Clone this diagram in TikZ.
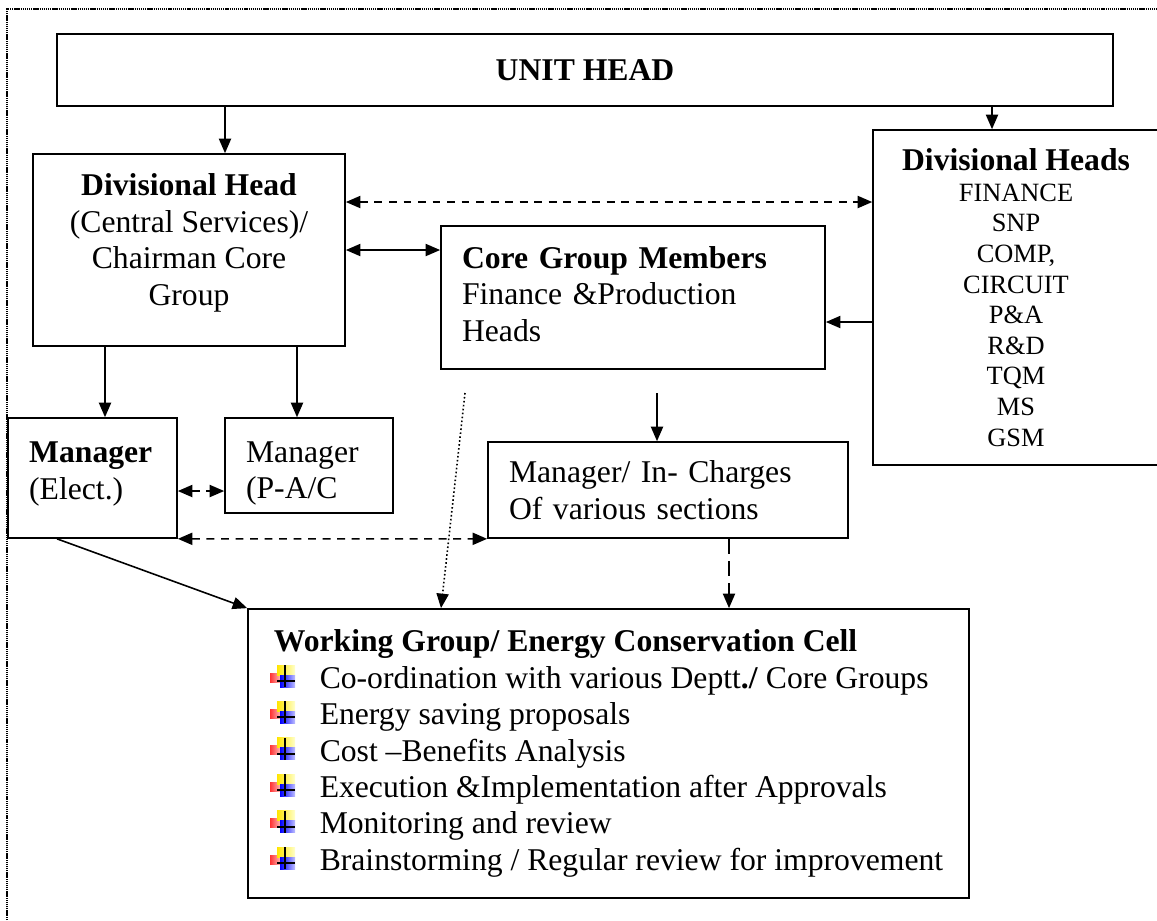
\documentclass[tikz,border=0pt]{standalone}
\usepackage{fontspec}
\setmainfont{Liberation Serif}
\usetikzlibrary{arrows.meta}
\tikzset{
	every node/.style={font=\fontsize{12}{13.8}\selectfont},
	box/.style={draw, line width=0.6pt, inner sep=0pt},
	lbox/.style={box, align=left, inner xsep=8pt},
	ltxt/.style={align=left, inner sep=0pt},
	con/.style={line width=0.6pt},
	dsh/.style={con, dash pattern=on 3pt off 2.5pt},
	bul/.pic={
		\shade[left color=red!80, right color=red!25] (0,-15) rectangle (11,-6);
		\shade[left color=yellow!80!orange, right color=yellow!20] (7,-23) rectangle (25,-13);
		\shade[left color=blue, right color=blue!25] (10,-13) rectangle (25,-1);
		\draw[line width=0.75pt] (15,-23) -- (15,-1) (7,-7) -- (25,-7);
	}
}
\begin{document}
\begin{tikzpicture}[x=0.379pt, y=-0.379pt, >={Triangle[length=5.5pt,width=4.6pt]}]
	\useasboundingbox (0,0) rectangle (1157,920);
	% Rahmen
	\draw[line width=0.5pt, dash pattern=on 0.5pt off 0.3pt] (7,920) -- (7,9) -- (1157,9);
	% Kaesten
	\node[box, minimum width=400.3pt, minimum height=27.3pt] (unit) at (585,70)
	{\textbf{UNIT HEAD}};
	\node[box, minimum width=118.3pt, minimum height=72.8pt] (dh) at (189,250) {};
	\node[align=center, inner sep=0pt] (dhtext) at ([yshift=2.7pt]dh.center)
	{\textbf{Divisional Head}\\(Central Services)/\\Chairman Core\\Group};
	\node[box, minimum width=108.4pt, minimum height=127pt, align=center,
	font=\fontsize{10}{11.6}\selectfont] (dhs) at (1016,297.5)
	{{\fontsize{12}{13.8}\selectfont\textbf{Divisional Heads}}\\FINANCE\\SNP\\COMP,\\CIRCUIT\\P\&A\\R\&D\\TQM\\MS\\GSM};
	\node[box, minimum width=145.6pt, minimum height=54.2pt] (core) at (633,297.5) {};
	\node[ltxt, text width=129.6pt] (coretext) at ([yshift=1.3pt]core.center)
	{\textbf{Core Group Members}\\Finance \&Production\\Heads};
	\node[box, minimum width=64.1pt, minimum height=45.5pt] (me) at (92.5,478) {};
	\node[ltxt, text width=48pt] (metext) at ([yshift=1.6pt]me.center)
	{\textbf{Manager}\\(Elect.)};
	\node[box, minimum width=63.7pt, minimum height=36pt] (mp) at (309,465.5) {};
	\node[ltxt, text width=47.7pt] (mptext) at ([yshift=-3pt]mp.center)
	{Manager\\(P-A/C};
	\node[lbox, minimum width=136.5pt, minimum height=36.4pt, text width=120.5pt]
	(mic) at (668,490) {Manager/ In- Charges\\Of various sections};
	\node[box, minimum width=273.3pt, minimum height=109.6pt, align=left] (wg) at
	(608.5,753.5) {\textbf{Working Group/ Energy Conservation Cell}\\
	\hspace*{17.4pt}Co-ordination with various Deptt\textbf{./} Core Groups\\
	\hspace*{17.4pt}Energy saving proposals\\
	\hspace*{17.4pt}Cost --Benefits Analysis\\
	\hspace*{17.4pt}Execution \&Implementation after Approvals\\
	\hspace*{17.4pt}Monitoring and review\\
	\hspace*{17.4pt}Brainstorming / Regular review for improvement};
	% Aufzaehlungszeichen
	\foreach \i in {0,...,5}
		\pic at (270, 688+36.4*\i) {bul};
	% Hilfspunkte
	\coordinate (x1) at (225,0);
	\coordinate (x2) at (992,0);
	\coordinate (x3) at (105,0);
	\coordinate (x4) at (297,0);
	\coordinate (x5) at (441,0);
	\coordinate (x6) at (729,0);
	\coordinate (x7) at (57,0);
	\coordinate (y1) at (0,202);
	\coordinate (y3) at (0,322);
	\coordinate (y4) at (0,491);
	\coordinate (s1) at (657,393);
	\coordinate (s2) at (465,393);
	% Pfeile
	\draw[con, ->] (unit.south -| x1) -- (dh.north -| x1);
	\draw[con, ->] (unit.south -| x2) -- (dhs.north -| x2);
	\draw[dsh, <->] (dh.east |- y1) -- (dhs.west |- y1);
	\draw[con, <->] (dh.east) -- (dh.east -| core.west);
	\draw[con, ->] (dhs.west |- y3) -- (core.east |- y3);
	\draw[con, ->] (dh.south -| x3) -- (me.north -| x3);
	\draw[con, ->] (dh.south -| x4) -- (mp.north -| x4);
	\draw[dsh, <->] (me.east |- y4) -- (mp.west |- y4);
	\draw[dsh, <->] (me.south east) -- (mic.south west);
	\draw[con, ->] (s1) -- (mic.north -| s1);
	\draw[line width=0.6pt, dash pattern=on 0.6pt off 0.9pt, ->] (s2) -- (wg.north -| x5);
	\draw[con, dash pattern=on 5.7pt off 2.7pt, ->] (mic.south -| x6) -- (wg.north -| x6);
	\draw[con, ->] (me.south -| x7) -- (wg.north west);
\end{tikzpicture}
\end{document}
